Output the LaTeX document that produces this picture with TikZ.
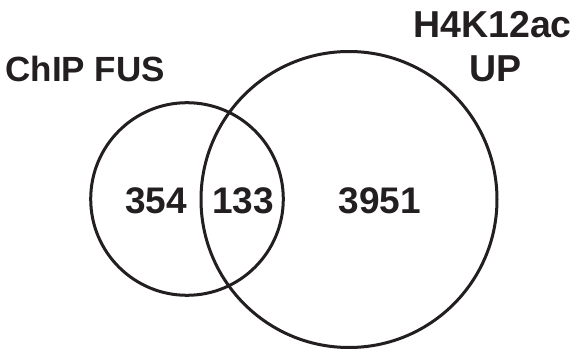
\documentclass[tikz,border=0pt]{standalone}
\usepackage{fontspec}
\setmainfont{Liberation Sans}
\definecolor{ink}{HTML}{231F20}
\begin{document}
\begin{tikzpicture}[x=1pt,y=-1pt,
  ring/.style={draw=ink,line width=3pt},
  lbl/.style={inner sep=0pt,outer sep=0pt,text=ink,font=\bfseries\fontsize{35}{40}\selectfont},
  lblbig/.style={inner sep=0pt,outer sep=0pt,text=ink,font=\bfseries\fontsize{37.5}{42}\selectfont},
  num/.style={inner sep=0pt,outer sep=0pt,text=ink,font=\bfseries\fontsize{37}{42}\selectfont}]
\useasboundingbox (0,0) rectangle (574,353);
\coordinate (cA) at (187,199);
\coordinate (cB) at (349,199.5);
\draw[ring] (cA) circle[radius=96.3];
\draw[ring] (cB) circle[radius=148];
\node[lbl,anchor=base west] (chip) at (5.5,81.7) {ChIP FUS};
\node[lblbig,anchor=base west] (h4k) at (413.3,37.3) {H4K12ac};
\node[lblbig,anchor=base west] (up) at (469,81.7) {UP};
\node[num,anchor=base west] (n1) at (125.4,214) {354};
\node[num,anchor=base west] (n2) at (212.4,214) {133};
\node[num,anchor=base west] (n3) at (338.7,214) {3951};
\end{tikzpicture}
\end{document}
